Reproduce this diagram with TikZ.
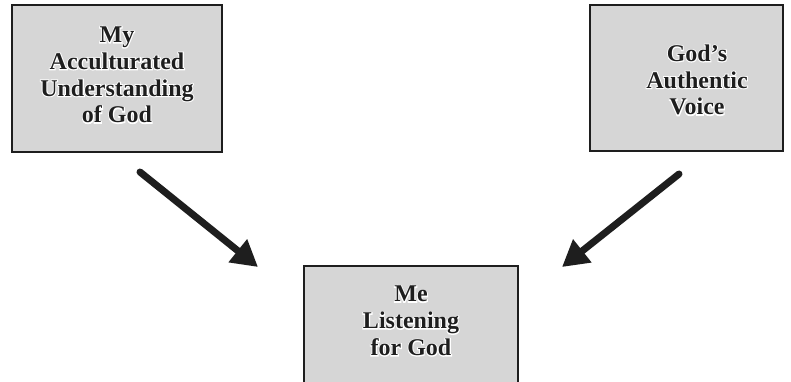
\documentclass[tikz,border=0pt]{standalone}
\usepackage{fontspec}
\setmainfont{Liberation Serif}
\newfontfamily\halofont{Liberation Serif}[BoldFeatures={FakeBold=8}]
\usetikzlibrary{arrows.meta}
\definecolor{boxfill}{RGB}{214,214,214}
\definecolor{ink}{RGB}{30,30,30}
\tikzset{
  panel/.style={draw=ink, line width=2.6pt, fill=boxfill},
  lbl/.style={align=center, font=\bfseries\fontsize{24}{26.8}\selectfont, text=ink, inner sep=0pt},
  halo/.style={align=center, font=\halofont\bfseries\fontsize{24}{26.8}\selectfont, text=white, inner sep=0pt},
  bigarrow/.style={draw=ink, line width=7pt, line cap=round,
    -{Triangle[length=26pt,width=28pt]}}
}
\begin{document}
\begin{tikzpicture}[x=1pt,y=-1pt]
\useasboundingbox (0,0) rectangle (791,381);
\clip (0,0) rectangle (791,381);
\fill[white] (0,0) rectangle (791,381);
% boxes
\draw[panel] (12,5) rectangle (222,152);
\draw[panel] (590,5) rectangle (783,151);
\draw[panel] (304,266) rectangle (518,400);
% labels
\node[halo] (ah) at (117,75) {My\\Acculturated\\Understanding\\of God};
\node[lbl] (a) at (117,75) {My\\Acculturated\\Understanding\\of God};
\node[halo] (bh) at (697,80) {God’s\\Authentic\\Voice};
\node[lbl] (b) at (697,80) {God’s\\Authentic\\Voice};
\node[halo] (ch) at (411,321) {Me\\Listening\\for God};
\node[lbl] (c) at (411,321) {Me\\Listening\\for God};
% arrows
\coordinate (a1) at (140,172);
\coordinate (a2) at (258,267);
\coordinate (b1) at (679,174);
\coordinate (b2) at (562,267);
\draw[bigarrow] (a1) -- (a2);
\draw[bigarrow] (b1) -- (b2);
\end{tikzpicture}
\end{document}
